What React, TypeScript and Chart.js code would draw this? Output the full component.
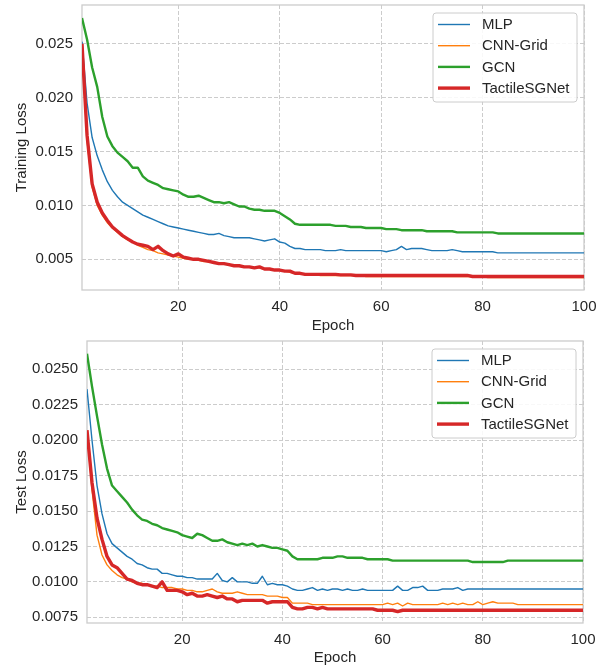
import React, { useEffect, useRef } from "react";
import { Chart, registerables } from "chart.js";

Chart.register(...registerables);

// ---------- data ----------
const epochs = Array.from({ length: 100 }, (_, i) => i + 1);
const seriesNames = ["MLP", "CNN-Grid", "GCN", "TactileSGNet"];
const seriesColors = ["#1f77b4", "#ff7f0e", "#2ca02c", "#d62728"];
const xTicks = [20, 40, 60, 80, 100];
const trainYTicks = [0.005, 0.01, 0.015, 0.02, 0.025];
const testYTicks = [0.0075, 0.01, 0.0125, 0.015, 0.0175, 0.02, 0.0225, 0.025];

const trainMLP = [
  0.0252, 0.0195, 0.0163, 0.0146, 0.0133, 0.0122, 0.0114, 0.0108, 0.0103, 0.0100,
  0.0097, 0.0094, 0.0091, 0.0089, 0.0087, 0.0085, 0.0083, 0.0081, 0.0080, 0.0079,
  0.0078, 0.0077, 0.0076, 0.0075, 0.0074, 0.0073, 0.0073, 0.0074, 0.0072, 0.0071,
  0.0070, 0.0070, 0.0070, 0.0070, 0.0069, 0.0068, 0.0067, 0.0068, 0.0069, 0.0066,
  0.0065, 0.0062, 0.0060, 0.0060, 0.0059, 0.0059, 0.0059, 0.0059, 0.0058, 0.0058,
  0.0058, 0.0059, 0.0058, 0.0058, 0.0058, 0.0058, 0.0058, 0.0058, 0.0058, 0.0058,
  0.0057, 0.0058, 0.0059, 0.0062, 0.0059, 0.0060, 0.0060, 0.0060, 0.0059, 0.0058,
  0.0058, 0.0058, 0.0058, 0.0059, 0.0058, 0.0057, 0.0057, 0.0057, 0.0057, 0.0057,
  0.0057, 0.0057, 0.0056, 0.0056, 0.0056, 0.0056, 0.0056, 0.0056, 0.0056, 0.0056,
  0.0056, 0.0056, 0.0056, 0.0056, 0.0056, 0.0056, 0.0056, 0.0056, 0.0056, 0.0056,
];
const trainCNN = [
  0.0245, 0.0160, 0.0117, 0.0100, 0.0091, 0.0084, 0.0079, 0.0075, 0.0071, 0.0068,
  0.0066, 0.0063, 0.0061, 0.0059, 0.0058, 0.0056, 0.0055, 0.0054, 0.0053, 0.0052,
  0.0051, 0.0050, 0.0050, 0.0049, 0.0048, 0.0048, 0.0047, 0.0046, 0.0046, 0.0045,
  0.0044, 0.0044, 0.0043, 0.0043, 0.0042, 0.0042, 0.0041, 0.0041, 0.0040, 0.0040,
  0.0039, 0.0038, 0.0037, 0.0036, 0.0036, 0.0036, 0.0036, 0.0035, 0.0035, 0.0035,
  0.0035, 0.0035, 0.0035, 0.0035, 0.0035, 0.0035, 0.0034, 0.0034, 0.0034, 0.0034,
  0.0034, 0.0034, 0.0034, 0.0034, 0.0034, 0.0034, 0.0034, 0.0034, 0.0034, 0.0034,
  0.0034, 0.0034, 0.0034, 0.0034, 0.0034, 0.0034, 0.0034, 0.0034, 0.0034, 0.0034,
  0.0033, 0.0033, 0.0033, 0.0033, 0.0033, 0.0033, 0.0033, 0.0033, 0.0033, 0.0033,
  0.0033, 0.0033, 0.0033, 0.0033, 0.0033, 0.0033, 0.0033, 0.0033, 0.0033, 0.0033,
];
const trainGCN = [
  0.0274, 0.0254, 0.0228, 0.0210, 0.0182, 0.0164, 0.0155, 0.0149, 0.0145, 0.0141,
  0.0135, 0.0135, 0.0127, 0.0123, 0.0121, 0.0119, 0.0116, 0.0115, 0.0114, 0.0113,
  0.0110, 0.0108, 0.0108, 0.0109, 0.0107, 0.0105, 0.0103, 0.0103, 0.0102, 0.0103,
  0.0101, 0.0099, 0.0099, 0.0097, 0.0096, 0.0096, 0.0095, 0.0095, 0.0095, 0.0093,
  0.0090, 0.0087, 0.0083, 0.0082, 0.0082, 0.0082, 0.0082, 0.0082, 0.0082, 0.0082,
  0.0081, 0.0081, 0.0081, 0.0080, 0.0080, 0.0080, 0.0079, 0.0079, 0.0079, 0.0079,
  0.0078, 0.0078, 0.0078, 0.0077, 0.0077, 0.0077, 0.0077, 0.0077, 0.0076, 0.0076,
  0.0076, 0.0076, 0.0076, 0.0076, 0.0075, 0.0075, 0.0075, 0.0075, 0.0075, 0.0075,
  0.0075, 0.0075, 0.0074, 0.0074, 0.0074, 0.0074, 0.0074, 0.0074, 0.0074, 0.0074,
  0.0074, 0.0074, 0.0074, 0.0074, 0.0074, 0.0074, 0.0074, 0.0074, 0.0074, 0.0074,
];
const trainTactile = [
  0.0250, 0.0165, 0.0120, 0.0103, 0.0093, 0.0086, 0.0080, 0.0076, 0.0072, 0.0069,
  0.0066, 0.0064, 0.0063, 0.0062, 0.0059, 0.0062, 0.0058, 0.0055, 0.0053, 0.0055,
  0.0052, 0.0051, 0.0050, 0.0050, 0.0049, 0.0048, 0.0047, 0.0046, 0.0046, 0.0045,
  0.0044, 0.0044, 0.0043, 0.0043, 0.0042, 0.0043, 0.0041, 0.0041, 0.0040, 0.0040,
  0.0039, 0.0039, 0.0037, 0.0037, 0.0036, 0.0036, 0.0036, 0.0036, 0.0036, 0.0036,
  0.0036, 0.00355, 0.00355, 0.00355, 0.0035, 0.0035, 0.0035, 0.0035, 0.0035, 0.0035,
  0.0035, 0.0035, 0.0035, 0.0035, 0.0035, 0.0035, 0.0035, 0.0035, 0.0035, 0.0035,
  0.0035, 0.0035, 0.0035, 0.0035, 0.0035, 0.0035, 0.0035, 0.0034, 0.0034, 0.0034,
  0.0034, 0.0034, 0.0034, 0.0034, 0.0034, 0.0034, 0.0034, 0.0034, 0.0034, 0.0034,
  0.0034, 0.0034, 0.0034, 0.0034, 0.0034, 0.0034, 0.0034, 0.0034, 0.0034, 0.0034,
];

const testMLP = [
  0.0236, 0.0200, 0.0168, 0.0148, 0.0134, 0.0127, 0.0124, 0.0121, 0.0118, 0.0116,
  0.0113, 0.0112, 0.0110, 0.0109, 0.0109, 0.0106, 0.0106, 0.0105, 0.0104, 0.0104,
  0.0103, 0.0103, 0.0102, 0.0102, 0.0102, 0.0102, 0.0106, 0.0101, 0.0100, 0.0103,
  0.0100, 0.0100, 0.0100, 0.0099, 0.0099, 0.0104, 0.0098, 0.0099, 0.0098, 0.0098,
  0.0097, 0.0095, 0.0094, 0.0094, 0.0095, 0.0096, 0.0094, 0.0095, 0.0094, 0.0095,
  0.0095, 0.0094, 0.0095, 0.0094, 0.0094, 0.0095, 0.0094, 0.0094, 0.0094, 0.0094,
  0.0094, 0.0094, 0.0097, 0.0094, 0.0094, 0.0096, 0.0096, 0.0097, 0.0094, 0.0094,
  0.0094, 0.0095, 0.0095, 0.0095, 0.0096, 0.0094, 0.0095, 0.0095, 0.0095, 0.0095,
  0.0095, 0.0095, 0.0095, 0.0095, 0.0095, 0.0095, 0.0095, 0.0095, 0.0095, 0.0095,
  0.0095, 0.0095, 0.0095, 0.0095, 0.0095, 0.0095, 0.0095, 0.0095, 0.0095, 0.0095,
];
const testCNN = [
  0.0207, 0.0165, 0.0133, 0.0119, 0.0112, 0.0108, 0.0105, 0.0103, 0.0102, 0.0100,
  0.0099, 0.0099, 0.0098, 0.0097, 0.0097, 0.0096, 0.0096, 0.0096, 0.0095, 0.0095,
  0.0094, 0.0094, 0.0093, 0.0093, 0.0094, 0.0095, 0.0093, 0.0092, 0.0092, 0.0092,
  0.0093, 0.0092, 0.0091, 0.0091, 0.0091, 0.0091, 0.0090, 0.0090, 0.0090, 0.0089,
  0.0089, 0.0085, 0.0085, 0.0085, 0.0085, 0.0084, 0.0084, 0.0084, 0.0084, 0.0084,
  0.0084, 0.0084, 0.0084, 0.0084, 0.0084, 0.0084, 0.0084, 0.0084, 0.0084, 0.0084,
  0.0085, 0.0084, 0.0085, 0.0083, 0.0085, 0.0084, 0.0084, 0.0084, 0.0084, 0.0084,
  0.0084, 0.0085, 0.0084, 0.0085, 0.0084, 0.0085, 0.0084, 0.0084, 0.0086, 0.0084,
  0.0085, 0.0086, 0.0085, 0.0085, 0.0085, 0.0085, 0.0084, 0.0084, 0.0084, 0.0084,
  0.0084, 0.0084, 0.0084, 0.0084, 0.0084, 0.0084, 0.0084, 0.0084, 0.0084, 0.0084,
];
const testGCN = [
  0.0261, 0.0238, 0.0217, 0.0197, 0.0180, 0.0168, 0.0164, 0.0160, 0.0156, 0.0151,
  0.0147, 0.0144, 0.0143, 0.0141, 0.0140, 0.0138, 0.0137, 0.0136, 0.0135, 0.0133,
  0.0132, 0.0131, 0.0134, 0.0133, 0.0131, 0.0129, 0.0129, 0.0130, 0.0128, 0.0127,
  0.0126, 0.0127, 0.0126, 0.0127, 0.0125, 0.0126, 0.0125, 0.0124, 0.0124, 0.0123,
  0.0122, 0.0118, 0.0116, 0.0116, 0.0116, 0.0116, 0.0116, 0.0117, 0.0117, 0.0117,
  0.0118, 0.0118, 0.0117, 0.0117, 0.0117, 0.0117, 0.0116, 0.0116, 0.0116, 0.0116,
  0.0116, 0.0115, 0.0115, 0.0115, 0.0115, 0.0115, 0.0115, 0.0115, 0.0115, 0.0115,
  0.0115, 0.0115, 0.0115, 0.0115, 0.0115, 0.0115, 0.0115, 0.0114, 0.0114, 0.0114,
  0.0114, 0.0114, 0.0114, 0.0114, 0.0115, 0.0115, 0.0115, 0.0115, 0.0115, 0.0115,
  0.0115, 0.0115, 0.0115, 0.0115, 0.0115, 0.0115, 0.0115, 0.0115, 0.0115, 0.0115,
];
const testTactile = [
  0.0207, 0.0170, 0.0145, 0.0130, 0.0118, 0.0112, 0.0110, 0.0106, 0.0102, 0.0101,
  0.0099, 0.0098, 0.0098, 0.0097, 0.0096, 0.0100, 0.0094, 0.0094, 0.0094, 0.0093,
  0.0091, 0.0092, 0.0090, 0.0090, 0.0091, 0.0090, 0.0089, 0.0090, 0.0088, 0.0088,
  0.0086, 0.0087, 0.0087, 0.0087, 0.0087, 0.0087, 0.0085, 0.0086, 0.0086, 0.0086,
  0.0086, 0.0082, 0.0081, 0.0081, 0.0082, 0.0082, 0.0081, 0.0082, 0.0081, 0.0081,
  0.0081, 0.0081, 0.0081, 0.0081, 0.0081, 0.0081, 0.0081, 0.0081, 0.0080, 0.0080,
  0.0080, 0.0080, 0.0079, 0.0080, 0.0080, 0.0080, 0.0080, 0.0080, 0.0080, 0.0080,
  0.0080, 0.0080, 0.0080, 0.0080, 0.0080, 0.0080, 0.0080, 0.0080, 0.0080, 0.0080,
  0.0080, 0.0080, 0.0080, 0.0080, 0.0080, 0.0080, 0.0080, 0.0080, 0.0080, 0.0080,
  0.0080, 0.0080, 0.0080, 0.0080, 0.0080, 0.0080, 0.0080, 0.0080, 0.0080, 0.0080,
];

// ---------- styling ----------
const FONT = "'Liberation Sans', Arial, Helvetica, sans-serif";
const TEXT = "#262626";
const GRID = "#cccccc";
const lineWidths = [1.4, 1.4, 2.4, 3.4];

const framePlugin = {
  id: "frame",
  beforeDatasetsDraw(chart: any) {
    const { ctx, chartArea: a } = chart;
    ctx.save();
    ctx.strokeStyle = GRID;
    ctx.lineWidth = 1.3;
    ctx.setLineDash([]);
    ctx.strokeRect(a.left, a.top, a.right - a.left, a.bottom - a.top);
    ctx.restore();
  },
};

const legendPlugin = {
  id: "boxLegend",
  afterDraw(chart: any) {
    const { ctx, chartArea: a } = chart;
    const w = 144;
    const h = 89;
    const x = a.right - 7 - w;
    const y = a.top + 8;
    ctx.save();
    ctx.beginPath();
    const r = 3;
    ctx.moveTo(x + r, y);
    ctx.lineTo(x + w - r, y);
    ctx.arcTo(x + w, y, x + w, y + r, r);
    ctx.lineTo(x + w, y + h - r);
    ctx.arcTo(x + w, y + h, x + w - r, y + h, r);
    ctx.lineTo(x + r, y + h);
    ctx.arcTo(x, y + h, x, y + h - r, r);
    ctx.lineTo(x, y + r);
    ctx.arcTo(x, y, x + r, y, r);
    ctx.closePath();
    ctx.fillStyle = "rgba(255,255,255,0.85)";
    ctx.fill();
    ctx.strokeStyle = GRID;
    ctx.lineWidth = 1;
    ctx.stroke();
    ctx.font = `15px ${FONT}`;
    ctx.textBaseline = "middle";
    ctx.textAlign = "left";
    seriesNames.forEach((name, i) => {
      const cy = y + 11.5 + i * 21.2;
      ctx.beginPath();
      ctx.strokeStyle = seriesColors[i];
      ctx.lineWidth = lineWidths[i];
      ctx.moveTo(x + 5, cy);
      ctx.lineTo(x + 37, cy);
      ctx.stroke();
      ctx.fillStyle = TEXT;
      ctx.fillText(name, x + 49, cy + 0.5);
    });
    ctx.restore();
  },
};

type PanelProps = {
  width: number;
  height: number;
  padTop: number;
  padRight: number;
  yWidth: number;
  xHeight: number;
  yMin: number;
  yMax: number;
  yTicks: number[];
  decimals: number;
  yTitle: string;
  series: number[][];
};

function Panel(p: PanelProps) {
  const ref = useRef<HTMLCanvasElement | null>(null);
  useEffect(() => {
    if (!ref.current) return;
    const datasets = p.series.map((vals, i) => ({
      label: seriesNames[i],
      data: epochs.map((e, j) => ({ x: e, y: vals[j] })),
      borderColor: seriesColors[i],
      backgroundColor: seriesColors[i],
      borderWidth: lineWidths[i],
      pointRadius: 0,
      tension: 0,
      fill: false,
      borderJoinStyle: "round" as const,
      order: 3 - i,
    }));
    const chart = new Chart(ref.current, {
      type: "line",
      data: { datasets },
      plugins: [framePlugin, legendPlugin],
      options: {
        responsive: false,
        animation: false,
        layout: { padding: { top: p.padTop, right: p.padRight, left: 0, bottom: 0 } },
        plugins: { legend: { display: false }, tooltip: { enabled: false } },
        scales: {
          x: {
            type: "linear",
            min: 1,
            max: 100,
            afterBuildTicks: (s: any) => {
              s.ticks = xTicks.map((v) => ({ value: v }));
            },
            afterFit: (s: any) => {
              s.height = p.xHeight;
              s.paddingLeft = 0;
              s.paddingRight = 0;
            },
            ticks: {
              color: TEXT,
              font: { family: FONT, size: 15 },
              padding: 8,
              maxRotation: 0,
              callback: (v: any) => String(v),
            },
            grid: { color: GRID, lineWidth: 1, drawTicks: false },
            border: { display: false, dash: [4, 2] },
            title: {
              display: true,
              text: "Epoch",
              color: TEXT,
              font: { family: FONT, size: 15 },
              padding: { top: 0, bottom: 0 },
            },
          },
          y: {
            type: "linear",
            min: p.yMin,
            max: p.yMax,
            afterBuildTicks: (s: any) => {
              s.ticks = p.yTicks.map((v) => ({ value: v }));
            },
            afterFit: (s: any) => {
              s.width = p.yWidth;
              s.paddingTop = 0;
              s.paddingBottom = 0;
            },
            ticks: {
              color: TEXT,
              font: { family: FONT, size: 15 },
              padding: 9,
              callback: (v: any) => Number(v).toFixed(p.decimals),
            },
            grid: { color: GRID, lineWidth: 1, drawTicks: false },
            border: { display: false, dash: [4, 2] },
            title: {
              display: true,
              text: p.yTitle,
              color: TEXT,
              font: { family: FONT, size: 15 },
              padding: { top: 13, bottom: 0 },
            },
          },
        },
      },
    } as any);
    return () => chart.destroy();
  }, []);
  return (
    <canvas
      ref={ref}
      width={p.width}
      height={p.height}
      style={{ display: "block", width: p.width, height: p.height }}
    />
  );
}

export default function App() {
  useEffect(() => {
    document.body.style.margin = "0";
  }, []);
  return (
    <div style={{ width: 607, height: 667, background: "#fff" }}>
      <Panel
        width={607}
        height={335}
        padTop={5}
        padRight={23}
        yWidth={82}
        xHeight={45}
        yMin={0.00215}
        yMax={0.0286}
        yTicks={trainYTicks}
        decimals={3}
        yTitle="Training Loss"
        series={[trainMLP, trainCNN, trainGCN, trainTactile]}
      />
      <Panel
        width={607}
        height={332}
        padTop={6}
        padRight={24}
        yWidth={87}
        xHeight={44}
        yMin={0.0071}
        yMax={0.027}
        yTicks={testYTicks}
        decimals={4}
        yTitle="Test Loss"
        series={[testMLP, testCNN, testGCN, testTactile]}
      />
    </div>
  );
}
